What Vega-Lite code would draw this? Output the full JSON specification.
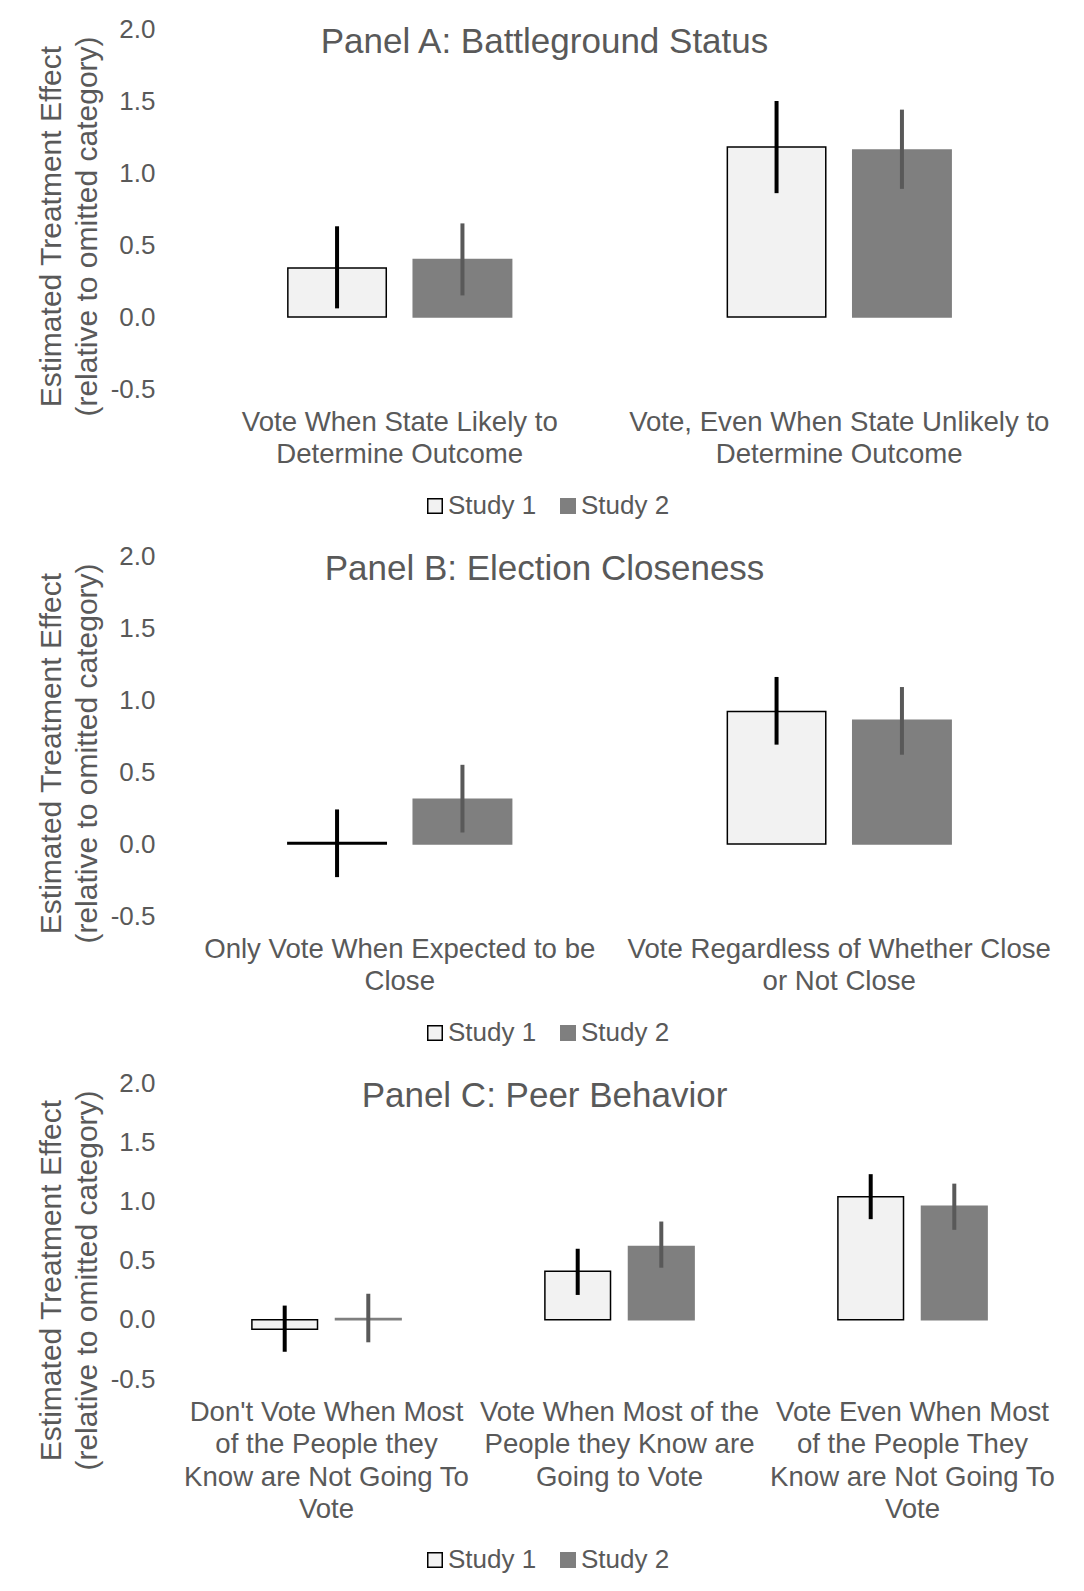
{
  "$schema": "https://vega.github.io/schema/vega-lite/v6.json",
  "background": "white",
  "padding": {"left": 35, "top": 16, "right": 5, "bottom": 30},
  "bounds": "flush",
  "spacing": 167,
  "config": {
    "font": "Liberation Sans",
    "view": {"stroke": null},
    "axis": {"labelColor": "#595959", "titleColor": "#595959", "grid": false, "domain": false, "ticks": false, "labelFont": "Liberation Sans", "titleFont": "Liberation Sans"},
    "title": {"color": "#595959", "fontSize": 35, "fontWeight": "normal", "font": "Liberation Sans"},
    "legend": {"labelColor": "#595959", "labelFontSize": 26, "labelFont": "Liberation Sans"}
  },
  "datasets": {
    "effects": [
      {"panel": "A", "category": "Vote When State Likely to|Determine Outcome", "study": "Study 1", "value": 0.34, "lo": 0.06, "hi": 0.63},
      {"panel": "A", "category": "Vote When State Likely to|Determine Outcome", "study": "Study 2", "value": 0.40, "lo": 0.15, "hi": 0.65},
      {"panel": "A", "category": "Vote, Even When State Unlikely to|Determine Outcome", "study": "Study 1", "value": 1.18, "lo": 0.86, "hi": 1.50},
      {"panel": "A", "category": "Vote, Even When State Unlikely to|Determine Outcome", "study": "Study 2", "value": 1.16, "lo": 0.89, "hi": 1.44},
      {"panel": "B", "category": "Only Vote When Expected to be|Close", "study": "Study 1", "value": 0.01, "lo": -0.23, "hi": 0.24},
      {"panel": "B", "category": "Only Vote When Expected to be|Close", "study": "Study 2", "value": 0.31, "lo": 0.08, "hi": 0.55},
      {"panel": "B", "category": "Vote Regardless of Whether Close|or Not Close", "study": "Study 1", "value": 0.92, "lo": 0.69, "hi": 1.16},
      {"panel": "B", "category": "Vote Regardless of Whether Close|or Not Close", "study": "Study 2", "value": 0.86, "lo": 0.62, "hi": 1.09},
      {"panel": "C", "category": "Don't Vote When Most|of the People they|Know are Not Going To|Vote", "study": "Study 1", "value": -0.08, "lo": -0.27, "hi": 0.12},
      {"panel": "C", "category": "Don't Vote When Most|of the People they|Know are Not Going To|Vote", "study": "Study 2", "value": 0.01, "lo": -0.19, "hi": 0.22},
      {"panel": "C", "category": "Vote When Most of the|People they Know are|Going to Vote", "study": "Study 1", "value": 0.41, "lo": 0.21, "hi": 0.60},
      {"panel": "C", "category": "Vote When Most of the|People they Know are|Going to Vote", "study": "Study 2", "value": 0.62, "lo": 0.44, "hi": 0.83},
      {"panel": "C", "category": "Vote Even When Most|of the People They|Know are Not Going To|Vote", "study": "Study 1", "value": 1.04, "lo": 0.85, "hi": 1.23},
      {"panel": "C", "category": "Vote Even When Most|of the People They|Know are Not Going To|Vote", "study": "Study 2", "value": 0.96, "lo": 0.76, "hi": 1.15}
    ]
  },
  "resolve": {
    "scale": {"x": "independent", "xOffset": "independent", "y": "independent", "fill": "independent", "stroke": "independent", "color": "independent"},
    "legend": {"fill": "independent", "stroke": "independent"},
    "axis": {"x": "independent", "y": "independent"}
  },
  "vconcat": [
    {
      "width": 879, "height": 360,
      "data": {"name": "effects"},
      "transform": [{"filter": "datum.panel === 'A'"}],
      "title": {"text": "Panel A: Battleground Status", "anchor": "middle", "frame": "group", "dx": -75, "offset": -72, "baseline": "alphabetic"},
      "encoding": {
        "x": {"field": "category", "type": "nominal", "sort": null, "scale": {"paddingInner": 0, "paddingOuter": 0},
          "axis": {"title": null, "labelAngle": 0, "labelFontSize": 27.6, "labelLineHeight": 32.5, "labelPadding": 19, "labelLimit": 0, "labelExpr": "split(datum.label, '|')"}},
        "xOffset": {"field": "study", "type": "nominal", "sort": ["Study 1", "Study 2"], "scale": {"paddingInner": 0.215, "paddingOuter": 0.86}}
      },
      "layer": [
        {
          "mark": {"type": "bar", "strokeWidth": 1.5},
          "encoding": {
            "y": {"field": "value", "type": "quantitative", "scale": {"domain": [-0.5, 2.0], "nice": false, "zero": false},
              "axis": {"title": ["Estimated Treatment Effect", "(relative to omitted category)"], "titleFontSize": 30, "titleFontWeight": "normal", "titleLineHeight": 36, "titleX": -129, "titleY": 197, "titleBaseline": "middle", "titleAngle": -90, "values": [-0.5, 0, 0.5, 1, 1.5, 2], "labelExpr": "datum.value < 0 ? '-' + format(-datum.value, '.1f') : format(datum.value, '.1f')", "labelFontSize": 26, "labelPadding": 25}},
            "y2": {"datum": 0},
            "fill": {"field": "study", "type": "nominal", "scale": {"domain": ["Study 1", "Study 2"], "range": ["#f2f2f2", "#7f7f7f"]},
              "legend": {"title": null, "orient": "none", "legendX": 242, "legendY": 464, "direction": "horizontal", "symbolType": "square", "symbolSize": 210, "symbolStrokeWidth": 1.5, "labelOffset": 0, "columnPadding": 18}},
            "stroke": {"field": "study", "type": "nominal", "scale": {"domain": ["Study 1", "Study 2"], "range": ["#000000", "#7f7f7f"]},
              "legend": {"title": null, "orient": "none", "legendX": 242, "legendY": 464, "direction": "horizontal", "symbolType": "square", "symbolSize": 210, "symbolStrokeWidth": 1.5, "labelOffset": 0, "columnPadding": 18}}
          }
        },
        {
          "mark": {"type": "rule", "strokeWidth": 4},
          "encoding": {
            "y": {"field": "lo", "type": "quantitative"},
            "y2": {"field": "hi"},
            "color": {"field": "study", "type": "nominal", "scale": {"domain": ["Study 1", "Study 2"], "range": ["#000000", "#595959"]}, "legend": null}
          }
        },
        {
          "mark": {"type": "rule", "color": "#d9d9d9", "strokeWidth": 3},
          "encoding": {"y": {"datum": 0}}
        }
      ]
    },
    {
      "width": 879, "height": 360,
      "data": {"name": "effects"},
      "transform": [{"filter": "datum.panel === 'B'"}],
      "title": {"text": "Panel B: Election Closeness", "anchor": "middle", "frame": "group", "dx": -75, "offset": -72, "baseline": "alphabetic"},
      "encoding": {
        "x": {"field": "category", "type": "nominal", "sort": null, "scale": {"paddingInner": 0, "paddingOuter": 0},
          "axis": {"title": null, "labelAngle": 0, "labelFontSize": 27.6, "labelLineHeight": 32.5, "labelPadding": 19, "labelLimit": 0, "labelExpr": "split(datum.label, '|')"}},
        "xOffset": {"field": "study", "type": "nominal", "sort": ["Study 1", "Study 2"], "scale": {"paddingInner": 0.215, "paddingOuter": 0.86}}
      },
      "layer": [
        {
          "mark": {"type": "bar", "strokeWidth": 1.5},
          "encoding": {
            "y": {"field": "value", "type": "quantitative", "scale": {"domain": [-0.5, 2.0], "nice": false, "zero": false},
              "axis": {"title": ["Estimated Treatment Effect", "(relative to omitted category)"], "titleFontSize": 30, "titleFontWeight": "normal", "titleLineHeight": 36, "titleX": -129, "titleY": 197, "titleBaseline": "middle", "titleAngle": -90, "values": [-0.5, 0, 0.5, 1, 1.5, 2], "labelExpr": "datum.value < 0 ? '-' + format(-datum.value, '.1f') : format(datum.value, '.1f')", "labelFontSize": 26, "labelPadding": 25}},
            "y2": {"datum": 0},
            "fill": {"field": "study", "type": "nominal", "scale": {"domain": ["Study 1", "Study 2"], "range": ["#f2f2f2", "#7f7f7f"]},
              "legend": {"title": null, "orient": "none", "legendX": 242, "legendY": 464, "direction": "horizontal", "symbolType": "square", "symbolSize": 210, "symbolStrokeWidth": 1.5, "labelOffset": 0, "columnPadding": 18}},
            "stroke": {"field": "study", "type": "nominal", "scale": {"domain": ["Study 1", "Study 2"], "range": ["#000000", "#7f7f7f"]},
              "legend": {"title": null, "orient": "none", "legendX": 242, "legendY": 464, "direction": "horizontal", "symbolType": "square", "symbolSize": 210, "symbolStrokeWidth": 1.5, "labelOffset": 0, "columnPadding": 18}}
          }
        },
        {
          "mark": {"type": "rule", "strokeWidth": 4},
          "encoding": {
            "y": {"field": "lo", "type": "quantitative"},
            "y2": {"field": "hi"},
            "color": {"field": "study", "type": "nominal", "scale": {"domain": ["Study 1", "Study 2"], "range": ["#000000", "#595959"]}, "legend": null}
          }
        },
        {
          "mark": {"type": "rule", "color": "#d9d9d9", "strokeWidth": 3},
          "encoding": {"y": {"datum": 0}}
        }
      ]
    },
    {
      "width": 879, "height": 296,
      "data": {"name": "effects"},
      "transform": [{"filter": "datum.panel === 'C'"}],
      "title": {"text": "Panel C: Peer Behavior", "anchor": "middle", "frame": "group", "dx": -75, "offset": -72, "baseline": "alphabetic"},
      "encoding": {
        "x": {"field": "category", "type": "nominal", "sort": null, "scale": {"paddingInner": 0, "paddingOuter": 0},
          "axis": {"title": null, "labelAngle": 0, "labelFontSize": 27.6, "labelLineHeight": 32.5, "labelPadding": 19, "labelLimit": 0, "labelExpr": "split(datum.label, '|')"}},
        "xOffset": {"field": "study", "type": "nominal", "sort": ["Study 1", "Study 2"], "scale": {"paddingInner": 0.215, "paddingOuter": 0.86}}
      },
      "layer": [
        {
          "mark": {"type": "bar", "strokeWidth": 1.5},
          "encoding": {
            "y": {"field": "value", "type": "quantitative", "scale": {"domain": [-0.5, 2.0], "nice": false, "zero": false},
              "axis": {"title": ["Estimated Treatment Effect", "(relative to omitted category)"], "titleFontSize": 30, "titleFontWeight": "normal", "titleLineHeight": 36, "titleX": -129, "titleY": 197, "titleBaseline": "middle", "titleAngle": -90, "values": [-0.5, 0, 0.5, 1, 1.5, 2], "labelExpr": "datum.value < 0 ? '-' + format(-datum.value, '.1f') : format(datum.value, '.1f')", "labelFontSize": 26, "labelPadding": 25}},
            "y2": {"datum": 0},
            "fill": {"field": "study", "type": "nominal", "scale": {"domain": ["Study 1", "Study 2"], "range": ["#f2f2f2", "#7f7f7f"]},
              "legend": {"title": null, "orient": "none", "legendX": 242, "legendY": 464, "direction": "horizontal", "symbolType": "square", "symbolSize": 210, "symbolStrokeWidth": 1.5, "labelOffset": 0, "columnPadding": 18}},
            "stroke": {"field": "study", "type": "nominal", "scale": {"domain": ["Study 1", "Study 2"], "range": ["#000000", "#7f7f7f"]},
              "legend": {"title": null, "orient": "none", "legendX": 242, "legendY": 464, "direction": "horizontal", "symbolType": "square", "symbolSize": 210, "symbolStrokeWidth": 1.5, "labelOffset": 0, "columnPadding": 18}}
          }
        },
        {
          "mark": {"type": "rule", "strokeWidth": 4},
          "encoding": {
            "y": {"field": "lo", "type": "quantitative"},
            "y2": {"field": "hi"},
            "color": {"field": "study", "type": "nominal", "scale": {"domain": ["Study 1", "Study 2"], "range": ["#000000", "#595959"]}, "legend": null}
          }
        },
        {
          "mark": {"type": "rule", "color": "#d9d9d9", "strokeWidth": 3},
          "encoding": {"y": {"datum": 0}}
        }
      ]
    }
  ]
}
